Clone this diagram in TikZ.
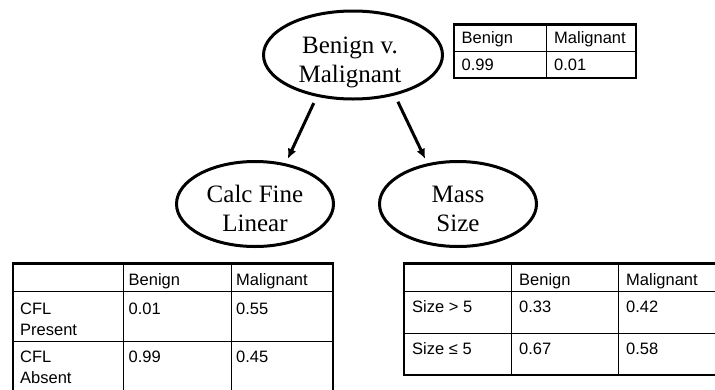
\documentclass[tikz,border=0pt]{standalone}
\usepackage{fontspec}
\setmainfont{Liberation Serif}
\newfontfamily\tabfont{Liberation Sans}
\usetikzlibrary{arrows.meta,shapes.geometric}
\begin{document}
\begin{tikzpicture}[x=1pt,y=-1pt,
  bubble/.style={draw, line width=3pt, ellipse, inner sep=0pt},
  etext/.style={font=\fontsize{25}{29.5}\selectfont, align=center, anchor=base, inner sep=0pt},
  cell/.style={font=\tabfont\fontsize{16.5}{21}\selectfont, anchor=base west, inner sep=0pt, align=left},
  outerline/.style={line width=2.5pt},
  innerline/.style={line width=1pt},
  arr/.style={line width=3pt, -{Latex[length=10pt,width=9pt]}, shorten <=7pt, shorten >=5pt}]
\clip (0,0) rectangle (715,389);
\fill[white] (0,0) rectangle (715,389);

% ellipses
\node[bubble, minimum width=179pt, minimum height=88pt] (top) at (353,55) {};
\node[bubble, minimum width=157pt, minimum height=85pt] (cfl) at (255,204) {};
\node[bubble, minimum width=157pt, minimum height=85pt] (mass) at (458,204) {};
% anchor=base of a multi-line node sits on its last line
\node[etext] (toptxt) at (350,82.5) {Benign v.\\Malignant};
\node[etext] (cfltxt) at (255,231.5) {Calc Fine\\Linear};
\node[etext] (masstxt) at (458,231.5) {Mass\\Size};

% arrows
\draw[arr] (top.229) -- (cfl.53);
\draw[arr] (top.316) -- (mass.127);

% top table
\draw[innerline] (546,24.5) -- (546,78);
\draw[innerline] (454,51) -- (636,51);
\draw[outerline] (454,24.5) rectangle (636,78);
\node[cell] (t11) at (461.5,43.3) {Benign};
\node[cell] (t12) at (554,43.3) {Malignant};
\node[cell] (t21) at (461.5,70) {0.99};
\node[cell] (t22) at (554,70) {0.01};

% left table
\draw[innerline] (123,263.5) -- (123,400);
\draw[innerline] (231.5,263.5) -- (231.5,400);
\draw[innerline] (13,291) -- (333,291);
\draw[innerline] (13,341) -- (333,341);
\draw[outerline] (13,263.5) rectangle (333,400);
\node[cell] (l12) at (128.5,285) {Benign};
\node[cell] (l13) at (236,285) {Malignant};
\node[cell] (l21) at (20,335) {CFL\\Present};
\node[cell] (l22) at (128.5,314) {0.01};
\node[cell] (l23) at (236,314) {0.55};
\node[cell] (l31) at (20,383.5) {CFL\\Absent};
\node[cell] (l32) at (128.5,362.5) {0.99};
\node[cell] (l33) at (236,362.5) {0.45};

% right table
\draw[innerline] (511,263.5) -- (511,375);
\draw[innerline] (618,263.5) -- (618,375);
\draw[innerline] (404,291) -- (720,291);
\draw[innerline] (404,333.5) -- (720,333.5);
\draw[outerline] (404,263.5) rectangle (720,375);
\node[cell] (r12) at (519,285) {Benign};
\node[cell] (r13) at (626,285) {Malignant};
\node[cell] (r21) at (412,312) {Size > 5};
\node[cell] (r22) at (519,312) {0.33};
\node[cell] (r23) at (626,312) {0.42};
\node[cell] (r31) at (412,354.5) {Size ≤ 5};
\node[cell] (r32) at (519,354.5) {0.67};
\node[cell] (r33) at (626,354.5) {0.58};
\end{tikzpicture}
\end{document}
